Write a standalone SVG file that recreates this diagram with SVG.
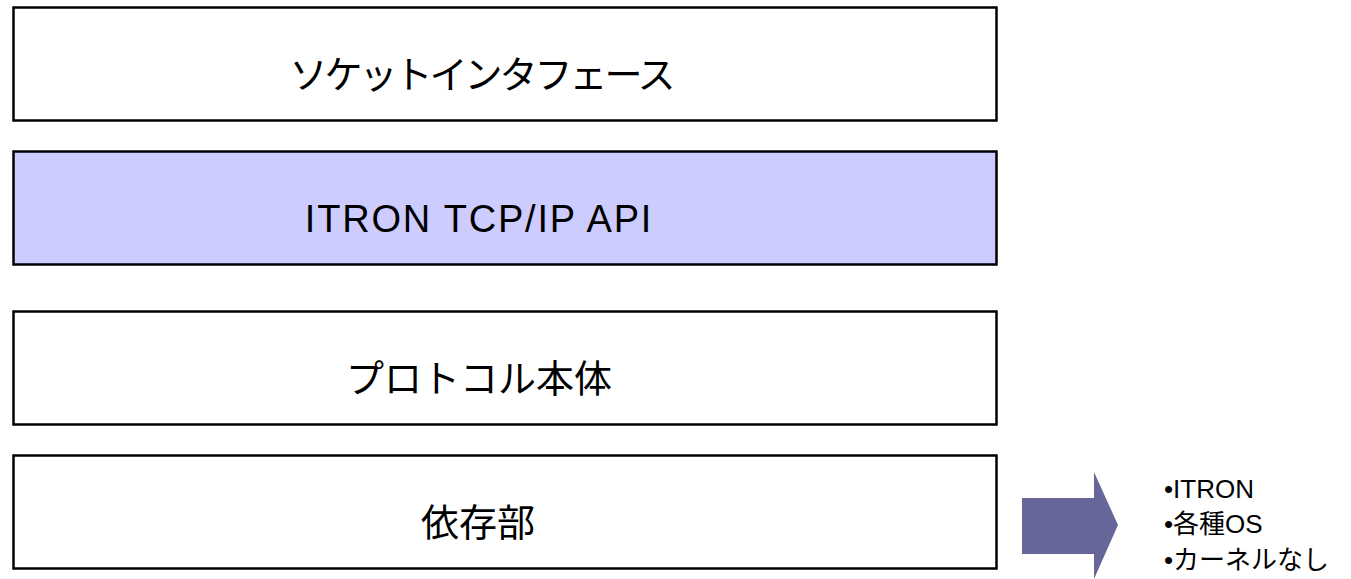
<svg xmlns="http://www.w3.org/2000/svg" width="1351" height="579" viewBox="0 0 1351 579">
<style>
.box{stroke:#000;stroke-width:2.5}
.lbl{font-family:"Liberation Sans","Noto Sans CJK JP",sans-serif;font-size:38px;fill:#000;text-anchor:middle}
.note{font-family:"Liberation Sans","Noto Sans CJK JP",sans-serif;font-size:26px;fill:#000}
</style>
<rect width="1351" height="579" fill="#fff"/>
<g id="socket"><rect class="box" x="13.5" y="7.5" width="983" height="113" fill="#fff"/><text class="lbl" x="481" y="88" letter-spacing="-3">ソケットインタフェース</text></g>
<g id="itron-api"><rect class="box" x="13.5" y="151.5" width="983" height="113" fill="#ccccff"/><text class="lbl" x="479" y="232" letter-spacing="1.8">ITRON TCP/IP API</text></g>
<g id="protocol"><rect class="box" x="13.5" y="311.5" width="983" height="113" fill="#fff"/><text class="lbl" x="479" y="392">プロトコル本体</text></g>
<g id="dependent"><rect class="box" x="13.5" y="455.5" width="983" height="113" fill="#fff"/><text class="lbl" x="478" y="536">依存部</text></g>
<g id="connectors"><polygon points="1022,498 1094,498 1094,472 1118,525 1094,579 1094,554 1022,554" fill="#666699"/></g>
<g id="targets"><text class="note" x="1164" y="498">•ITRON</text><text class="note" x="1164" y="533">•各種OS</text><text class="note" x="1164" y="569">•カーネルなし</text></g>
</svg>
